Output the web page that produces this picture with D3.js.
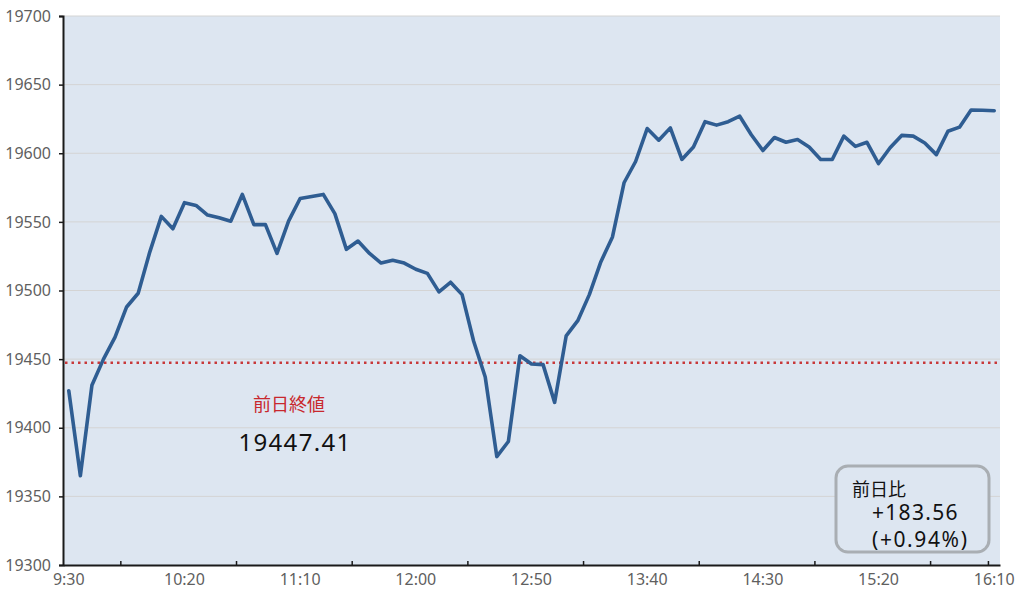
<!DOCTYPE html>
<html>
<head>
<meta charset="utf-8">
<script src="https://cdn.jsdelivr.net/npm/d3@7/dist/d3.min.js"></script>
<style>
  html, body { margin: 0; padding: 0; background: #ffffff; }
  svg { display: block; }
  text { font-family: "Noto Sans CJK JP", "Noto Sans", sans-serif; }
</style>
</head>
<body>
<svg id="chart" width="1028" height="595"></svg>
<script>
// ---- data ----
const times = [
  "9:30","9:35","9:40","9:45","9:50","9:55","10:00","10:05","10:10","10:15",
  "10:20","10:25","10:30","10:35","10:40","10:45","10:50","10:55","11:00","11:05",
  "11:10","11:15","11:20","11:25","11:30","11:35","11:40","11:45","11:50","11:55",
  "12:00","12:05","12:10","12:15","12:20","12:25","12:30","12:35","12:40","12:45",
  "12:50","12:55","13:00","13:05","13:10","13:15","13:20","13:25","13:30","13:35",
  "13:40","13:45","13:50","13:55","14:00","14:05","14:10","14:15","14:20","14:25",
  "14:30","14:35","14:40","14:45","14:50","14:55","15:00","15:05","15:10","15:15",
  "15:20","15:25","15:30","15:35","15:40","15:45","15:50","15:55","16:00","16:05",
  "16:10"
];
const prices = [
  19427, 19365, 19431, 19450, 19466, 19488, 19498, 19528, 19554, 19545,
  19564, 19562, 19555, 19553, 19550.5, 19570, 19548, 19548, 19527, 19550.5,
  19567, 19568.5, 19570, 19556, 19530, 19536, 19527, 19520, 19522, 19520,
  19515.5, 19512.5, 19499, 19506, 19497, 19463, 19437, 19379, 19390, 19452.5,
  19446.5, 19446, 19418.5, 19467, 19478, 19497, 19521, 19539, 19578.5, 19594,
  19618, 19609.5, 19618.5, 19595.5, 19604.5, 19623, 19620.5, 19623, 19627, 19613.5,
  19602, 19611.5, 19608, 19610, 19604.5, 19595.5, 19595.5, 19612.5, 19605, 19608,
  19592.5, 19604, 19613, 19612.5, 19607.5, 19599, 19616, 19619, 19631.5, 19631.3,
  19630.97
];
const xLabels = ["9:30","10:20","11:10","12:00","12:50","13:40","14:30","15:20","16:10"];
const xTickAt = ["9:55","10:45","11:35","12:25","13:15","14:05","14:55","15:45","16:10"];
const yTicks = [19300, 19350, 19400, 19450, 19500, 19550, 19600, 19650, 19700];
const prevClose = 19447.41;
const prevCloseLabel = "前日終値";
const prevCloseText = "19447.41";
const diffLabel = "前日比";
const diffValue = "+183.56";
const diffPct = "(+0.94%)";

// ---- layout ----
const svg = d3.select("#chart");
const mLeft = 63, mRight = 1000, mTop = 16, mBottom = 565;

const x = d3.scaleBand().domain(times).range([mLeft, mRight]).padding(0);
const cx = d => x(d) + x.bandwidth() / 2;
const y = d3.scaleLinear().domain([19300, 19700]).range([mBottom, mTop]);

// plot background
svg.append("rect")
  .attr("x", mLeft).attr("y", mTop)
  .attr("width", mRight - mLeft).attr("height", mBottom - mTop)
  .attr("fill", "#dde6f1");

// gridlines
svg.append("g").selectAll("line")
  .data(yTicks.filter(v => v !== 19300))
  .join("line")
  .attr("x1", mLeft).attr("x2", mRight)
  .attr("y1", d => y(d)).attr("y2", d => y(d))
  .attr("stroke", "#d4d4d4").attr("stroke-width", 1);

// y axis
const yAxis = d3.axisLeft(y).tickValues(yTicks).tickSize(4).tickPadding(8).tickFormat(d3.format("d"));
const gy = svg.append("g").attr("transform", `translate(${mLeft},0)`).call(yAxis);
gy.select(".domain").attr("stroke", "#1a1a1a").attr("stroke-width", 2);
gy.selectAll(".tick line").attr("stroke", "#1a1a1a").attr("stroke-width", 1.5);
gy.selectAll(".tick text").attr("fill", "#5f5f5f").attr("font-size", 16)
  .style("font-family", "'Noto Sans', 'DejaVu Sans', sans-serif");

// x axis
const xAxis = d3.axisBottom(x).tickValues(xLabels).tickSize(0).tickPadding(9);
const gx = svg.append("g").attr("transform", `translate(0,${mBottom})`).call(xAxis);
gx.select(".domain").attr("stroke", "#1a1a1a").attr("stroke-width", 2);
gx.selectAll(".tick text").attr("fill", "#5f5f5f").attr("font-size", 16)
  .style("font-family", "'Noto Sans', 'DejaVu Sans', sans-serif");
// minor tick marks at category boundaries (pointing inward)
svg.append("g").selectAll("line")
  .data(xTickAt)
  .join("line")
  .attr("x1", d => x(d)).attr("x2", d => x(d))
  .attr("y1", mBottom).attr("y2", mBottom - 4)
  .attr("stroke", "#1a1a1a").attr("stroke-width", 1.5);

// previous close dotted line
svg.append("line")
  .attr("x1", mLeft + 2).attr("x2", mRight)
  .attr("y1", y(prevClose)).attr("y2", y(prevClose))
  .attr("stroke", "#c8383a").attr("stroke-width", 2.5)
  .attr("stroke-dasharray", "2.5,4");

// price line
const line = d3.line().x((d, i) => cx(times[i])).y(d => y(d));
svg.append("path")
  .datum(prices)
  .attr("d", line)
  .attr("fill", "none")
  .attr("stroke", "#2f5d92")
  .attr("stroke-width", 3.6)
  .attr("stroke-linejoin", "round")
  .attr("stroke-linecap", "round");

// previous close annotation
svg.append("text")
  .attr("x", 289).attr("y", 411)
  .attr("text-anchor", "middle")
  .attr("fill", "#c8282d")
  .attr("font-size", 18)
  .text(prevCloseLabel);
svg.append("text")
  .attr("x", 295).attr("y", 451)
  .attr("text-anchor", "middle")
  .attr("fill", "#111")
  .attr("font-size", 24)
  .attr("letter-spacing", 1.3)
  .style("font-family", "'Noto Sans', sans-serif")
  .text(prevCloseText);

// diff box
svg.append("rect")
  .attr("x", 836).attr("y", 466)
  .attr("width", 153).attr("height", 86)
  .attr("rx", 12).attr("ry", 12)
  .attr("fill", "#dde6f1")
  .attr("stroke", "#a9aeb3").attr("stroke-width", 3);
svg.append("text")
  .attr("x", 852).attr("y", 496)
  .attr("fill", "#111").attr("font-size", 18)
  .text(diffLabel);
svg.append("text")
  .attr("x", 872).attr("y", 520)
  .attr("fill", "#111").attr("font-size", 21)
  .attr("letter-spacing", 1.3)
  .style("font-family", "'Noto Sans', sans-serif")
  .text(diffValue);
svg.append("text")
  .attr("x", 872).attr("y", 547)
  .attr("fill", "#111").attr("font-size", 21)
  .attr("letter-spacing", 1.6)
  .style("font-family", "'Noto Sans', sans-serif")
  .text(diffPct);
</script>
</body>
</html>
